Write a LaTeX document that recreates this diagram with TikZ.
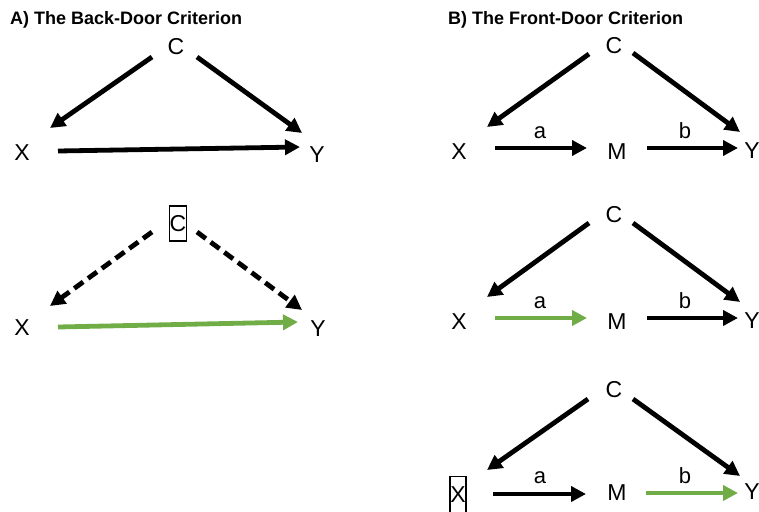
\documentclass[tikz,border=0pt]{standalone}
\usepackage{fontspec}
\setmainfont{Liberation Sans}
\usetikzlibrary{arrows.meta}
\definecolor{grn}{RGB}{112,173,71}
\begin{document}
\begin{tikzpicture}[x=1pt,y=-1pt,
  lbl/.style={inner sep=0pt,font=\fontsize{23}{23}\selectfont},
  small/.style={inner sep=0pt,font=\fontsize{22}{22}\selectfont},
  ttl/.style={inner sep=0pt,anchor=base west,font=\fontsize{18}{18}\selectfont\bfseries},
  arr/.style={line width=4.8pt,-{Triangle[length=15pt,width=15pt]}},
  dsh/.style={arr,dash pattern=on 11pt off 6pt},
  gr/.style={arr,draw=grn,-{Triangle[length=15pt,width=15pt,fill=grn]}},
  boxed/.style={draw,line width=1.2pt,minimum width=16pt,minimum height=35pt,inner sep=0pt}]
\useasboundingbox (0,0) rectangle (759,511);
% titles
\node[ttl] (ta) at (10,25) {A) The Back-Door Criterion};
\node[ttl] (tb) at (448,25) {B) The Front-Door Criterion};
% A1
\node[lbl] (a1C) at (176,47) {C};
\node[lbl] (a1X) at (22,153) {X};
\node[lbl] (a1Y) at (317,155) {Y};
\draw[arr] ([shift={(-24,10)}]a1C.center) -- ([shift={(28,-25)}]a1X.center);
\draw[arr] ([shift={(21,10)}]a1C.center) -- ([shift={(-15,-22)}]a1Y.center);
\draw[arr] ([shift={(36,-2)}]a1X.center) -- ([shift={(-17,-8)}]a1Y.center);
% A2
\node[lbl,boxed] (a2C) at (178,223.5) {C};
\node[lbl] (a2X) at (22,328) {X};
\node[lbl] (a2Y) at (318,329) {Y};
\draw[dsh] ([shift={(-26,8.5)}]a2C.center) -- ([shift={(28,-22)}]a2X.center);
\draw[dsh] ([shift={(19,8.5)}]a2C.center) -- ([shift={(-16,-19)}]a2Y.center);
\draw[gr] ([shift={(36,-1)}]a2X.center) -- ([shift={(-20,-7)}]a2Y.center);
% B1
\node[lbl] (b1C) at (614,46) {C};
\node[lbl] (b1X) at (459,152) {X};
\node[lbl] (b1M) at (617,152) {M};
\node[lbl] (b1Y) at (752,151) {Y};
\node[small] (b1a) at (540,133) {a};
\node[small] (b1b) at (685,131) {b};
\draw[arr] ([shift={(-25,8)}]b1C.center) -- ([shift={(28,-25)}]b1X.center);
\draw[arr] ([shift={(19,7)}]b1C.center) -- ([shift={(-12,-19)}]b1Y.center);
\draw[arr] ([shift={(36,-4)}]b1X.center) -- ([shift={(-30,-4)}]b1M.center);
\draw[arr] ([shift={(30,-4)}]b1M.center) -- ([shift={(-14,-3)}]b1Y.center);
% B2
\node[lbl] (b2C) at (614,215) {C};
\node[lbl] (b2X) at (459,322) {X};
\node[lbl] (b2M) at (617,322) {M};
\node[lbl] (b2Y) at (752,321) {Y};
\node[small] (b2a) at (540,303) {a};
\node[small] (b2b) at (685,301) {b};
\draw[arr] ([shift={(-25,8)}]b2C.center) -- ([shift={(28,-25)}]b2X.center);
\draw[arr] ([shift={(19,8)}]b2C.center) -- ([shift={(-12,-19)}]b2Y.center);
\draw[gr] ([shift={(36,-4)}]b2X.center) -- ([shift={(-30,-4)}]b2M.center);
\draw[arr] ([shift={(30,-4)}]b2M.center) -- ([shift={(-14,-3)}]b2Y.center);
% B3
\node[lbl] (b3C) at (614,390) {C};
\node[lbl,boxed,minimum height=37pt] (b3X) at (458,495) {X};
\node[lbl] (b3M) at (617,493) {M};
\node[lbl] (b3Y) at (752,492) {Y};
\node[small] (b3a) at (540,478) {a};
\node[small] (b3b) at (685,476) {b};
\draw[arr] ([shift={(-26,9)}]b3C.center) -- ([shift={(29,-25)}]b3X.center);
\draw[arr] ([shift={(19,9)}]b3C.center) -- ([shift={(-12,-16)}]b3Y.center);
\draw[arr] ([shift={(35,-1)}]b3X.center) -- ([shift={(-31,1)}]b3M.center);
\draw[gr] ([shift={(29,0)}]b3M.center) -- ([shift={(-14,1)}]b3Y.center);
\end{tikzpicture}
\end{document}
